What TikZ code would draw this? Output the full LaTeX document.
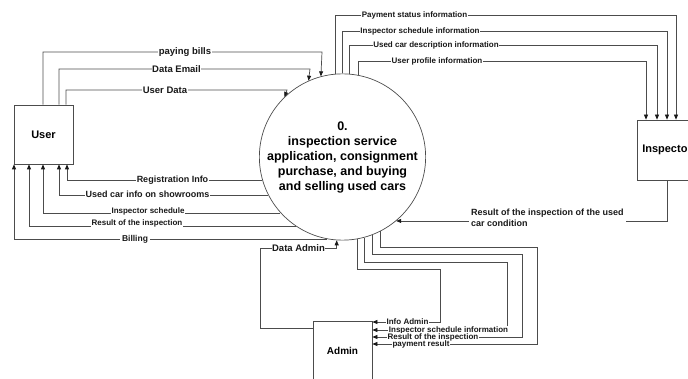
\documentclass[tikz,border=0pt]{standalone}
\usepackage{fontspec}
\setmainfont{Liberation Sans}
\usetikzlibrary{arrows.meta}
\begin{document}
\begin{tikzpicture}[x=1pt,y=-1pt,
  flow/.style={draw=black!70, line width=0.7pt},
  arr/.style={flow,-{Triangle[length=5pt,width=4pt,color=black!90]}},
  lbl/.style={fill=white, inner sep=0.6pt, text=black!90, font=\bfseries\fontsize{8}{9}\selectfont},
  lblm/.style={lbl, font=\bfseries\fontsize{9}{11}\selectfont},
  lbll/.style={lbl, font=\bfseries\fontsize{9.5}{11}\selectfont},
  entity/.style={draw=black!70, line width=0.7pt, minimum width=59pt, minimum height=59pt, inner sep=0pt, font=\bfseries\fontsize{11}{13}\selectfont},
  proc/.style={circle, draw=black!70, line width=0.7pt, minimum size=158pt, inner sep=0pt, align=center, font=\bfseries\fontsize{12.5}{15}\selectfont}]
\useasboundingbox (0,0) rectangle (688,379);
\clip (0,0) rectangle (688,379);

% nodes
\node[entity] (U) at (43.5,134.5) {User};
\node[entity, minimum height=60pt, minimum width=60pt] (I) at (667,150) {Inspector};
\node[entity, font=\bfseries\fontsize{10}{12}\selectfont] (A) at (342.5,350.5) {Admin};
\node[proc] (P) at (342.5,157) {0.\\inspection service\\application, consignment\\purchase, and buying\\and selling used cars};

% User -> process
\draw[arr] (U.north -| 43,0) |- (322,52) -- (P.105);
\draw[arr] (U.north -| 59,0) |- (310,69) -- (P.114.3);
\draw[arr] (U.north -| 66,0) |- (287,90) -- (P.134.6);

% process -> User
\draw[arr] (P.196.9) -| (U.south -| 67,0);
\draw[arr] (P.207.9) -| (U.south -| 59,0);
\draw[arr] (P.222.1) -| (U.south -| 43,0);
\draw[arr] (P.236.7) -| (U.south -| 29,0);
\draw[arr] (P.259.4) |- (14,239) -- (U.south -| 14,0);

% Admin -> process
\draw[arr] (A.west |- 0,328) -| (260,248) -| (P.266.0);

% process -> Inspector
\draw[arr] (P.95.45) |- (676,15) -- (I.north -| 676,0);
\draw[arr] (P.90.36) |- (667,31) -- (I.north -| 667,0);
\draw[arr] (P.85.28) |- (657,45) -- (I.north -| 657,0);
\draw[arr] (P.79.43) |- (646,61) -- (I.north -| 646,0);

% Inspector -> process
\draw[arr] (I.south -| 667,0) |- (P.310.58);

% process -> Admin
\draw[arr] (P.280.57) |- (440,269) |- (A.east |- 0,322);
\draw[arr] (P.285.79) |- (507,262) |- (A.east |- 0,330);
\draw[arr] (P.291.92) |- (522,254) |- (A.east |- 0,337);
\draw[arr] (P.297.52) |- (537,247) |- (A.east |- 0,344);

% labels
\node[lbll] (l1) at (185,52) {paying bills};
\node[lbll] (l2) at (176.5,69) {Data Email};
\node[lbll] (l3) at (165,90) {User Data};
\node[lblm] (l4) at (172.5,180) {Registration Info};
\node[lblm] (l5) at (147.5,194) {Used car info on showrooms};
\node[lbl] (l6) at (148,211) {Inspector schedule};
\node[lbl] (l7) at (137,223.5) {Result of the inspection};
\node[lbl, font=\bfseries\fontsize{8.5}{10}\selectfont, inner xsep=2pt] (l8) at (135,239) {Billing};
\node[lbll] (l9) at (298.5,248) {Data Admin};
\node[lbl] (l10) at (414.5,15) {Payment status information};
\node[lbl] (l11) at (420,31) {Inspector schedule information};
\node[lbl] (l12) at (436,45) {Used car description information};
\node[lbl] (l13) at (437,61) {User profile information};
\node[lblm, align=left, anchor=west, inner xsep=2pt] (l14) at (469,217.5) {Result of the inspection of the used\\car condition};
\node[lbl] (l15) at (407.5,322) {Info Admin};
\node[lbl] (l16) at (448.5,330) {Inspector schedule information};
\node[lbl] (l17) at (433,337) {Result of the inspection};
\node[lbl] (l18) at (421,344) {payment result};
\end{tikzpicture}
\end{document}
